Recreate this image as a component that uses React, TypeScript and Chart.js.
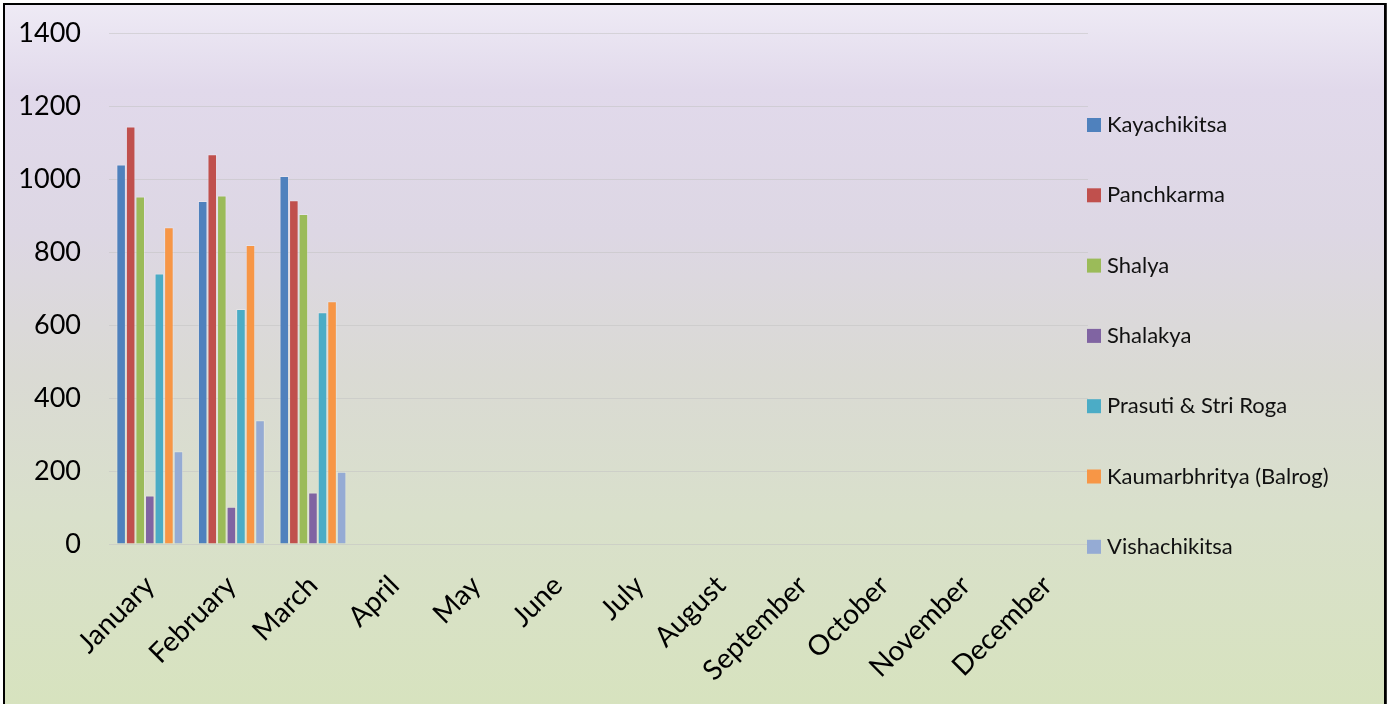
import React, { useEffect, useRef } from "react";
import { Chart, registerables } from "chart.js";

Chart.register(...registerables);

const months = [
  "January", "February", "March", "April", "May", "June",
  "July", "August", "September", "October", "November", "December",
];

const seriesNames = [
  "Kayachikitsa",
  "Panchkarma",
  "Shalya",
  "Shalakya",
  "Prasuti & Stri Roga",
  "Kaumarbhritya (Balrog)",
  "Vishachikitsa",
];

const seriesColors = ["#4F81BD", "#C0504D", "#9BBB59", "#8064A2", "#4BACC6", "#F79646", "#95ABD4"];

const kayachikitsa = [1040, 940, 1008];
const panchkarma = [1144, 1068, 942];
const shalya = [952, 955, 904];
const shalakya = [133, 102, 141];
const prasuti = [741, 644, 635];
const kaumarbhritya = [868, 819, 665];
const vishachikitsa = [254, 339, 198];

const seriesValues = [kayachikitsa, panchkarma, shalya, shalakya, prasuti, kaumarbhritya, vishachikitsa];

const yTicks = [0, 200, 400, 600, 800, 1000, 1200, 1400];

const FONT = "Lato, 'Open Sans', sans-serif";

export default function App() {
  const ref = useRef<HTMLCanvasElement>(null);

  useEffect(() => {
    document.body.style.margin = "0";
    const canvas = ref.current;
    if (!canvas) return;

    const sideLegend = {
      id: "sideLegend",
      afterDraw(chart: any) {
        const { ctx, chartArea } = chart;
        ctx.save();
        ctx.font = `22px ${FONT}`;
        ctx.textBaseline = "middle";
        ctx.textAlign = "left";
        chart.data.datasets.forEach((ds: any, i: number) => {
          const cy = chartArea.top + 92 + i * 70.3;
          ctx.fillStyle = ds.backgroundColor;
          ctx.fillRect(chartArea.right - 1, cy - 7, 14, 14);
          ctx.fillStyle = "#111111";
          ctx.fillText(ds.label, chartArea.right + 19, cy);
        });
        ctx.restore();
      },
    };

    const chart = new Chart(canvas, {
      type: "bar",
      data: {
        labels: months,
        datasets: seriesNames.map((name, i) => ({
          label: name,
          data: seriesValues[i],
          backgroundColor: seriesColors[i],
          borderColor: "rgba(255,255,255,0.25)",
          borderWidth: 1,
          categoryPercentage: 0.82,
          barPercentage: 1.0,
        })),
      },
      options: {
        responsive: false,
        animation: false,
        devicePixelRatio: 1,
        layout: { padding: { top: 28, right: 296, left: 0, bottom: 0 } },
        plugins: {
          legend: { display: false },
          tooltip: { enabled: false },
        },
        scales: {
          x: {
            grid: { display: false, drawTicks: false },
            border: { display: false },
            ticks: {
              autoSkip: false,
              maxRotation: 45,
              minRotation: 45,
              padding: 25,
              color: "#000000",
              font: { family: FONT, size: 28 },
            },
            afterFit(scale: any) {
              scale.height = 160;
            },
          },
          y: {
            min: 0,
            max: 1400,
            afterBuildTicks(scale: any) {
              scale.ticks = yTicks.map((v) => ({ value: v }));
            },
            grid: { color: "rgba(195,195,195,0.55)", lineWidth: 1, drawTicks: false },
            border: { display: false },
            ticks: {
              padding: 28,
              color: "#000000",
              font: { family: FONT, size: 27 },
              callback: (v: any) => String(v),
            },
            afterFit(scale: any) {
              scale.width = 104;
              scale.paddingTop = 0;
              scale.paddingBottom = 0;
            },
          },
        },
      },
      plugins: [sideLegend],
    });

    return () => chart.destroy();
  }, []);

  return (
    <div
      style={{
        position: "fixed",
        left: 0,
        top: 0,
        width: 1395,
        height: 704,
        overflow: "hidden",
        background: "#ffffff",
      }}
    >
      <div
        style={{
          position: "absolute",
          left: 3,
          top: 3,
          width: 1379,
          height: 710,
          border: "2px solid #000000",
          boxShadow: "1px 0 0 #333333",
          background:
            "linear-gradient(180deg, #EEEAF5 0%, #E1D9EB 12%, #DDD7E4 32%, #DADAD4 52%, #D9E0CB 72%, #D7E3BE 100%)",
        }}
      >
        <canvas ref={ref} width={1379} height={699} style={{ display: "block" }} />
      </div>
    </div>
  );
}
